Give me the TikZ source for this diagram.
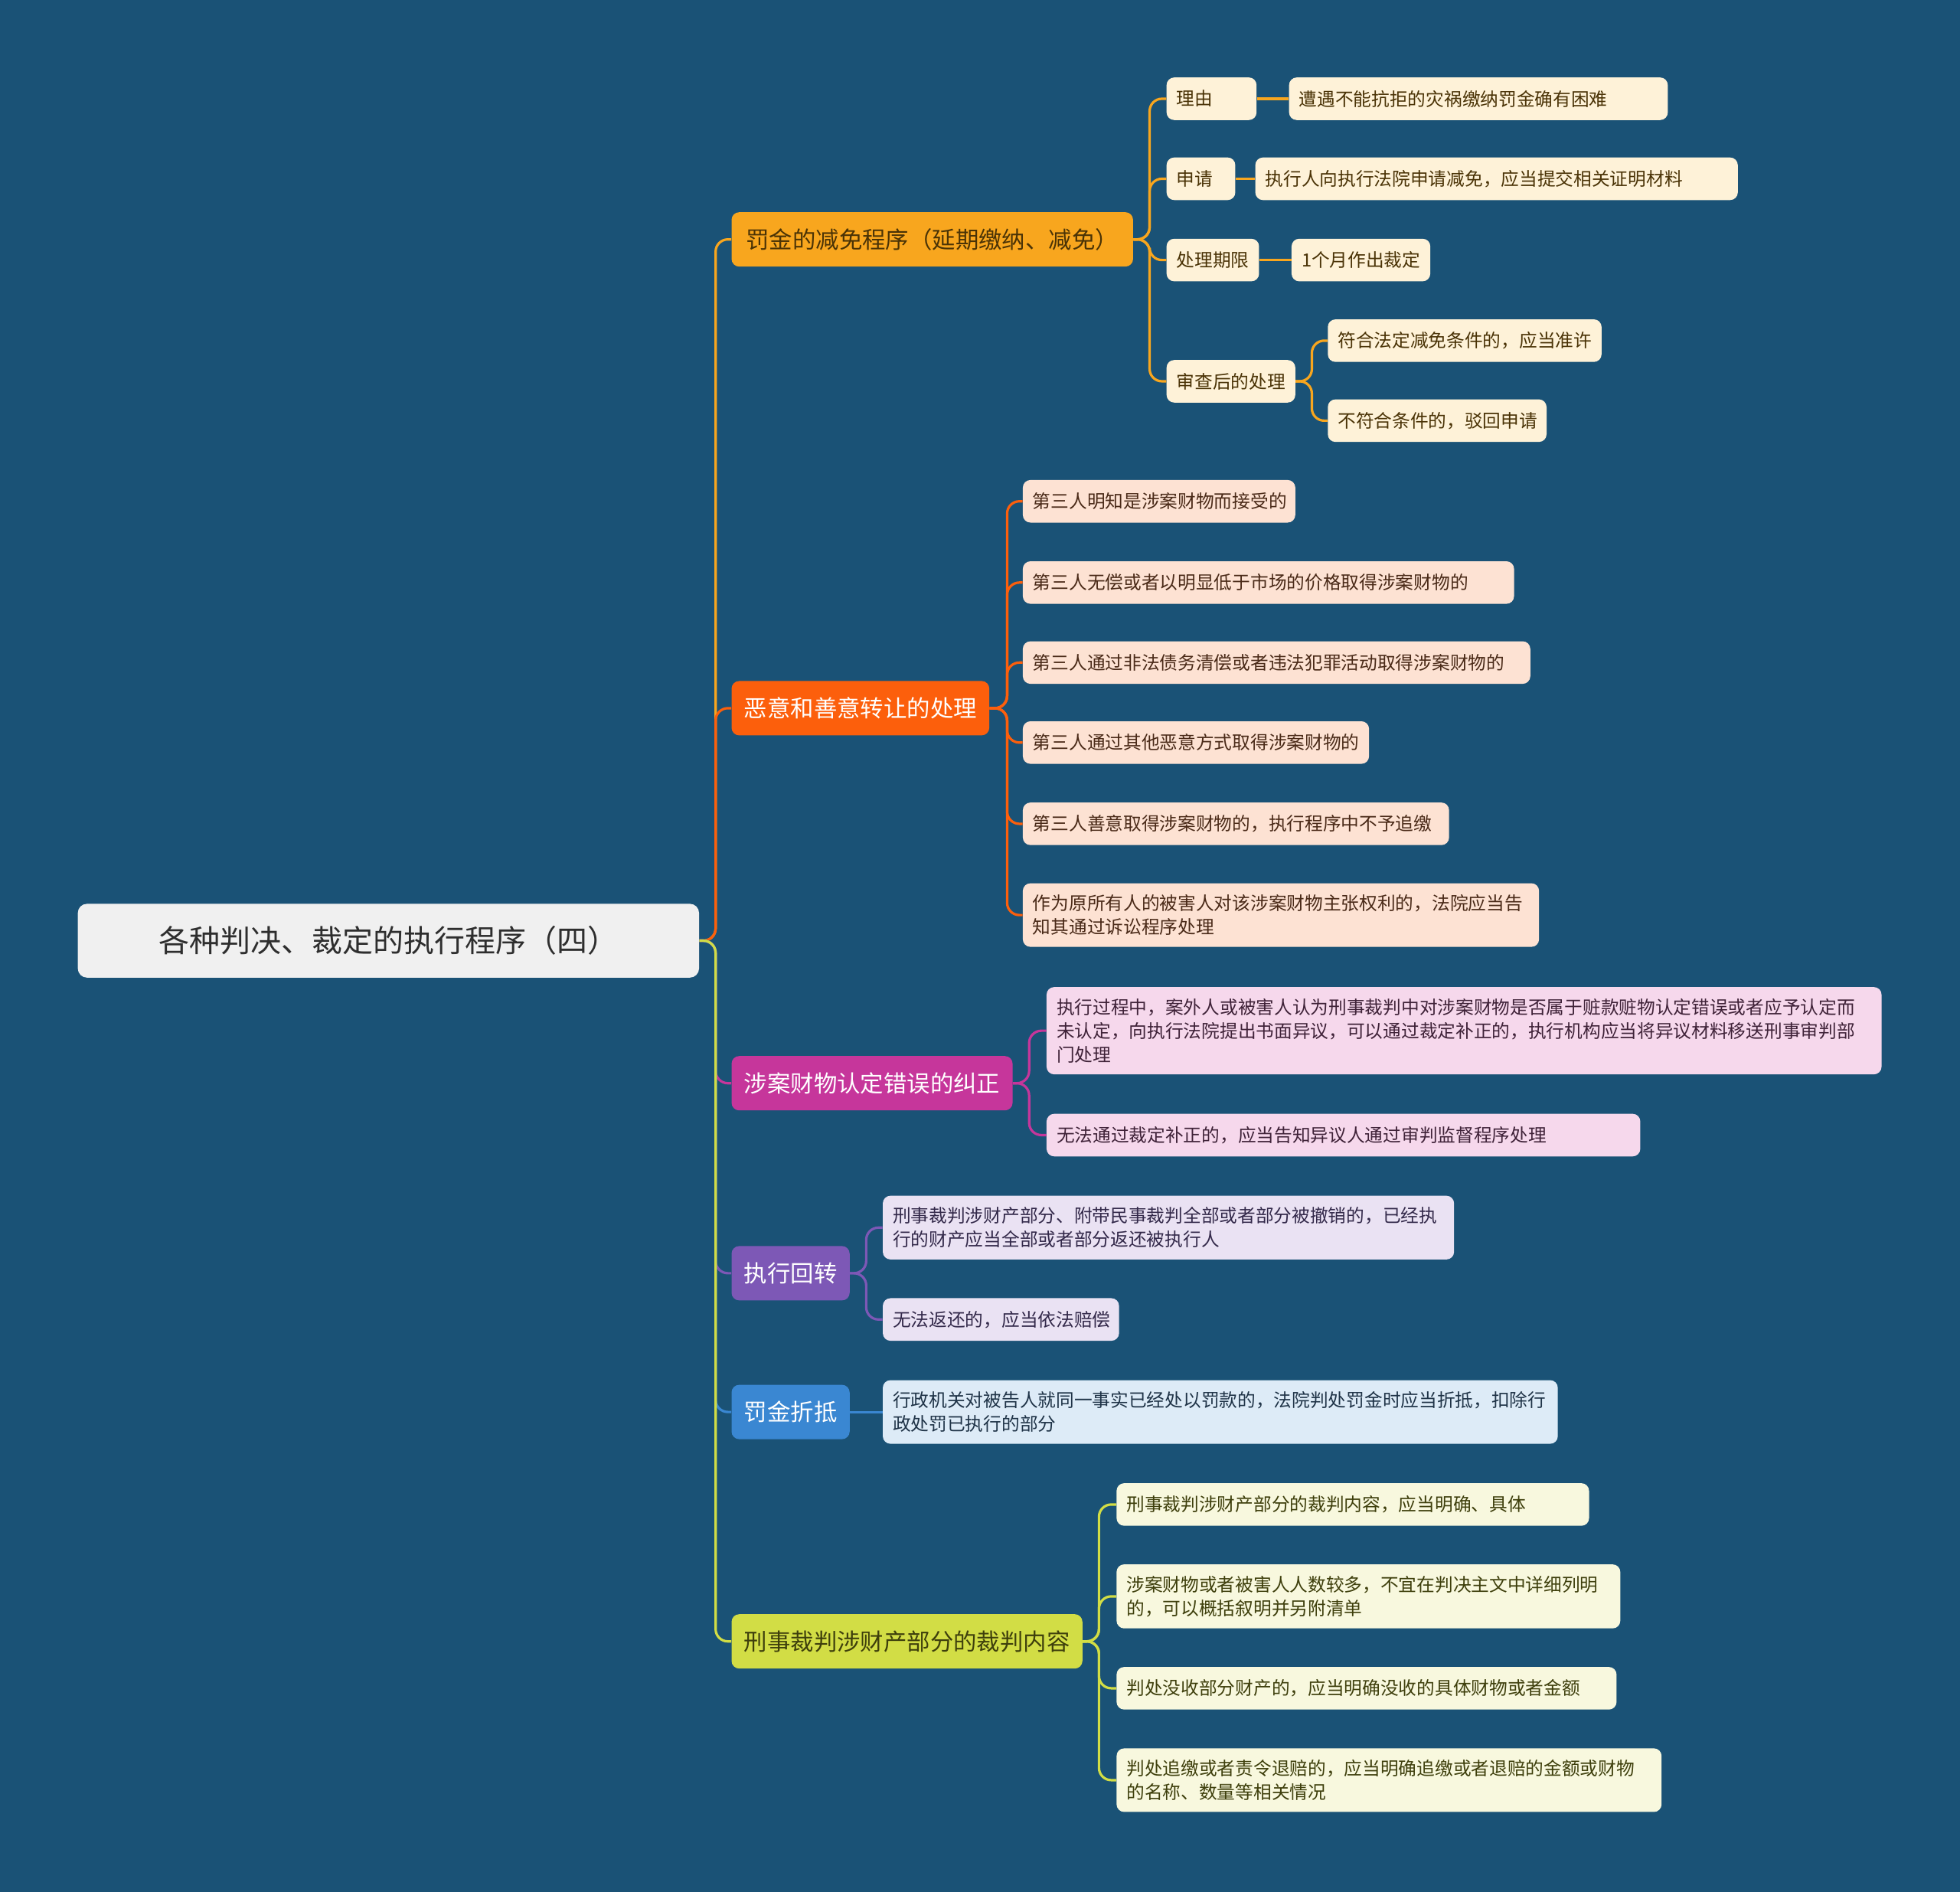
\documentclass[tikz,border=0pt]{standalone}
\usepackage{fontspec}
\setmainfont{Noto Sans CJK SC}

\definecolor{bgblue}{HTML}{1A5276}
\definecolor{rootfill}{HTML}{F0F0F0}
\definecolor{roottext}{HTML}{2E2E2E}
\definecolor{cOrange}{HTML}{F8A61E}
\definecolor{cRed}{HTML}{FC5F0C}
\definecolor{cMag}{HTML}{C6369B}
\definecolor{cPurple}{HTML}{7D58B6}
\definecolor{cBlue}{HTML}{3A87D2}
\definecolor{cLime}{HTML}{D2DD45}
\definecolor{lOrange}{HTML}{FEF2D8}
\definecolor{lRed}{HTML}{FDE2D3}
\definecolor{lMag}{HTML}{F6D8EC}
\definecolor{lPurple}{HTML}{EAE2F3}
\definecolor{lBlue}{HTML}{DDEBF7}
\definecolor{lLime}{HTML}{F8F8DE}
\definecolor{tOrange}{HTML}{4A3306}
\definecolor{tRed}{HTML}{4A2A18}
\definecolor{tMag}{HTML}{3F2238}
\definecolor{tPurple}{HTML}{33294A}
\definecolor{tBlue}{HTML}{1F3347}
\definecolor{tLime}{HTML}{3E3F0C}

\begin{document}
\begin{tikzpicture}[
			x=0.8163pt, y=-0.8163pt,
			boxw/.code={
				\pgfmathsetlengthmacro\boxtw{(#1-16)*0.8163pt}
				\tikzset{text width/.expanded=\boxtw}
			},
			root/.style={
				rectangle, rounded corners=6pt,
				fill=rootfill, text=roottext,
				font=\fontsize{20pt}{24pt}\selectfont,
				align=center, inner xsep=6.53pt,
				minimum height=48.2pt, anchor=west
			},
			branch/.style={
				rectangle, rounded corners=5pt,
				font=\fontsize{15.2pt}{18pt}\selectfont,
				inner xsep=8.16pt, inner ysep=4pt,
				minimum height=35.5pt, anchor=west
			},
			leaf/.style={
				rectangle, rounded corners=5pt,
				font=\fontsize{11.85pt}{15.5pt}\selectfont,
				align=left, inner xsep=6.53pt, inner ysep=7.5pt,
				minimum height=27.8pt, anchor=west
			},
			fineleaf/.style={leaf, fill=lOrange, text=tOrange},
			redleaf/.style={leaf, fill=lRed, text=tRed},
			magleaf/.style={leaf, fill=lMag, text=tMag},
			purpleleaf/.style={leaf, fill=lPurple, text=tPurple},
			blueleaf/.style={leaf, fill=lBlue, text=tBlue},
			limeleaf/.style={leaf, fill=lLime, text=tLime},
			link/.style={line width=1.6pt, rounded corners=8pt}
			]
			
			%% ── Canvas ──────────────────────────────────────────────────────────
			\useasboundingbox (0,0) rectangle (1568,1513);
			\fill[bgblue] (-6,-6) rectangle (1574,1519);
			
			%% ── Root and main branches ──────────────────────────────────────────
			\node[root, boxw=497] (root) at (62,752.5) {各种判决、裁定的执行程序（四）};
			
			\node[branch, fill=cOrange, text=tOrange, inner xsep=9.5pt] (fine) at (585,191.5) {罚金的减免程序（延期缴纳、减免）};
			\node[branch, fill=cRed, text=white] (transfer) at (585,566.5) {恶意和善意转让的处理};
			\node[branch, fill=cMag, text=white] (correct) at (585,866.5) {涉案财物认定错误的纠正};
			\node[branch, fill=cPurple, text=white] (revert) at (585,1018.5) {执行回转};
			\node[branch, fill=cBlue, text=white] (offset) at (585,1129.5) {罚金折抵};
			\node[branch, fill=cLime, text=tLime] (verdict) at (585,1313) {刑事裁判涉财产部分的裁判内容};
			
			\draw[link, cOrange] (root.east) -- ++(13,0) |- (fine.west);
			\draw[link, cRed] (root.east) -- ++(13,0) |- (transfer.west);
			\draw[link, cMag] (root.east) -- ++(13,0) |- (correct.west);
			\draw[link, cPurple] (root.east) -- ++(13,0) |- (revert.west);
			\draw[link, cBlue] (root.east) -- ++(13,0) |- (offset.west);
			\draw[link, cLime] (root.east) -- ++(13,0) |- (verdict.west);
			
			%% ── Fine reduction ──────────────────────────────────────────────────
			\node[fineleaf, boxw=72] (reason) at (933,79) {理由};
			\node[fineleaf, boxw=303] (reasonx) at (1031,79) {遭遇不能抗拒的灾祸缴纳罚金确有困难};
			\node[fineleaf, boxw=55] (apply) at (933,143) {申请};
			\node[fineleaf, boxw=386] (applyx) at (1004,143) {执行人向执行法院申请减免，应当提交相关证明材料};
			\node[fineleaf, boxw=74] (term) at (933,208) {处理期限};
			\node[fineleaf, boxw=111] (termx) at (1033,208) {1个月作出裁定};
			\node[fineleaf, boxw=103] (review) at (933,305) {审查后的处理};
			\node[fineleaf, boxw=219] (grant) at (1062,272.5) {符合法定减免条件的，应当准许};
			\node[fineleaf, boxw=175] (reject) at (1062,336.5) {不符合条件的，驳回申请};
			
			\draw[link, cOrange] (fine.east) -- ++(13,0) |- (reason.west);
			\draw[link, cOrange] (fine.east) -- ++(13,0) |- (apply.west);
			\draw[link, cOrange] (fine.east) -- ++(13,0) |- (term.west);
			\draw[link, cOrange] (fine.east) -- ++(13,0) |- (review.west);
			\draw[link, cOrange] (reason.east) -- (reasonx.west);
			\draw[link, cOrange] (apply.east) -- (applyx.west);
			\draw[link, cOrange] (term.east) -- (termx.west);
			\draw[link, cOrange] (review.east) -- ++(13,0) |- (grant.west);
			\draw[link, cOrange] (review.east) -- ++(13,0) |- (reject.west);
			
			%% ── Bad / good faith transfer ───────────────────────────────────────
			\node[redleaf, boxw=218] (tr1) at (818,401) {第三人明知是涉案财物而接受的};
			\node[redleaf, boxw=393] (tr2) at (818,466) {第三人无偿或者以明显低于市场的价格取得涉案财物的};
			\node[redleaf, boxw=406] (tr3) at (818,530) {第三人通过非法债务清偿或者违法犯罪活动取得涉案财物的};
			\node[redleaf, boxw=277] (tr4) at (818,594) {第三人通过其他恶意方式取得涉案财物的};
			\node[redleaf, boxw=341] (tr5) at (818,659) {第三人善意取得涉案财物的，执行程序中不予追缴};
			\node[redleaf, boxw=413] (tr6) at (818,732) {作为原所有人的被害人对该涉案财物主张权利的，法院应当告\\知其通过诉讼程序处理};
			
			\draw[link, cRed] (transfer.east) -- ++(14,0) |- (tr1.west);
			\draw[link, cRed] (transfer.east) -- ++(14,0) |- (tr2.west);
			\draw[link, cRed] (transfer.east) -- ++(14,0) |- (tr3.west);
			\draw[link, cRed] (transfer.east) -- ++(14,0) |- (tr4.west);
			\draw[link, cRed] (transfer.east) -- ++(14,0) |- (tr5.west);
			\draw[link, cRed] (transfer.east) -- ++(14,0) |- (tr6.west);
			
			%% ── Correction of property findings ─────────────────────────────────
			\node[magleaf, boxw=668] (co1) at (837,824.5) {执行过程中，案外人或被害人认为刑事裁判中对涉案财物是否属于赃款赃物认定错误或者应予认定而\\未认定，向执行法院提出书面异议，可以通过裁定补正的，执行机构应当将异议材料移送刑事审判部\\门处理};
			\node[magleaf, boxw=475] (co2) at (837,908) {无法通过裁定补正的，应当告知异议人通过审判监督程序处理};
			
			\draw[link, cMag] (correct.east) -- ++(13,0) |- (co1.west);
			\draw[link, cMag] (correct.east) -- ++(13,0) |- (co2.west);
			
			%% ── Reversal of execution ───────────────────────────────────────────
			\node[purpleleaf, boxw=457] (rv1) at (706,982) {刑事裁判涉财产部分、附带民事裁判全部或者部分被撤销的，已经执\\行的财产应当全部或者部分返还被执行人};
			\node[purpleleaf, boxw=189] (rv2) at (706,1055.5) {无法返还的，应当依法赔偿};
			
			\draw[link, cPurple] (revert.east) -- ++(13,0) |- (rv1.west);
			\draw[link, cPurple] (revert.east) -- ++(13,0) |- (rv2.west);
			
			%% ── Fine offset ─────────────────────────────────────────────────────
			\node[blueleaf, boxw=540] (of1) at (706,1129.5) {行政机关对被告人就同一事实已经处以罚款的，法院判处罚金时应当折抵，扣除行\\政处罚已执行的部分};
			
			\draw[link, cBlue] (offset.east) -- (of1.west);
			
			%% ── Property part of the judgment ───────────────────────────────────
			\node[limeleaf, boxw=378] (vd1) at (893,1203.5) {刑事裁判涉财产部分的裁判内容，应当明确、具体};
			\node[limeleaf, boxw=403] (vd2) at (893,1277) {涉案财物或者被害人人数较多，不宜在判决主文中详细列明\\的，可以概括叙明并另附清单};
			\node[limeleaf, boxw=400] (vd3) at (893,1350.5) {判处没收部分财产的，应当明确没收的具体财物或者金额};
			\node[limeleaf, boxw=436] (vd4) at (893,1424) {判处追缴或者责令退赔的，应当明确追缴或者退赔的金额或财物\\的名称、数量等相关情况};
			
			\draw[link, cLime] (verdict.east) -- ++(13,0) |- (vd1.west);
			\draw[link, cLime] (verdict.east) -- ++(13,0) |- (vd2.west);
			\draw[link, cLime] (verdict.east) -- ++(13,0) |- (vd3.west);
			\draw[link, cLime] (verdict.east) -- ++(13,0) |- (vd4.west);
			
		\end{tikzpicture}
\end{document}
